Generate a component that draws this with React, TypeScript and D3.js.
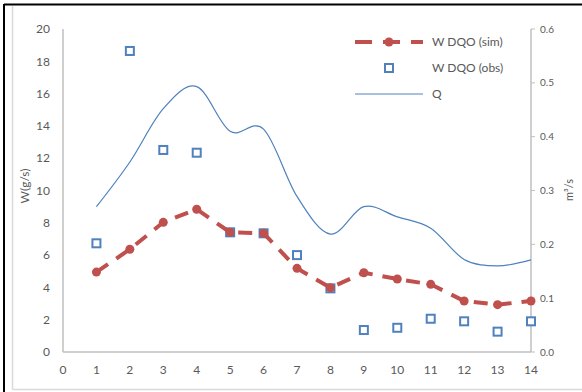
import React from "react";
import * as d3 from "d3";

const xs = [1, 2, 3, 4, 5, 6, 7, 8, 9, 10, 11, 12, 13, 14];
const wSim = [4.95, 6.36, 8.03, 8.84, 7.41, 7.35, 5.18, 3.98, 4.91, 4.52, 4.19, 3.16, 2.93, 3.16];
const wObs = [6.73, 18.64, 12.51, 12.34, 7.41, 7.35, 6.0, 3.94, 1.36, 1.5, 2.06, 1.9, 1.26, 1.9];
const q = [0.27, 0.353, 0.452, 0.493, 0.41, 0.414, 0.289, 0.219, 0.27, 0.251, 0.23, 0.172, 0.16, 0.171];
const xTicks = [0, 1, 2, 3, 4, 5, 6, 7, 8, 9, 10, 11, 12, 13, 14];
const yLeftTicks = [0, 2, 4, 6, 8, 10, 12, 14, 16, 18, 20];
const yRightTicks = [0, 0.1, 0.2, 0.3, 0.4, 0.5, 0.6];
const legendLabels = ["W DQO (sim)", "W DQO (obs)", "Q"];

const W = 582;
const H = 392;
const RED = "#c0504d";
const BLUE = "#4f81bd";
const TXT = "#595959";
const AX = "#bfbfbf";
const FONT = "Lato, 'Open Sans', 'Liberation Sans', sans-serif";

export default function App() {
  const left = 63, right = 531, top = 29, bottom = 352;
  const x = d3.scaleLinear().domain([0, 14]).range([left, right]);
  const yL = d3.scaleLinear().domain([0, 20]).range([bottom, top]);
  const yR = d3.scaleLinear().domain([0, 0.6]).range([bottom, top]);

  const qLine = d3
    .line<number>()
    .x((_, i) => x(xs[i]))
    .y((d) => yR(d))
    .curve(d3.curveCardinal.tension(0));
  const simLine = d3
    .line<number>()
    .x((_, i) => x(xs[i]))
    .y((d) => yL(d));

  const legX0 = 355, legX1 = 423, legText = 432;
  const legY = [42, 68, 94];

  return (
    <div style={{ position: "absolute", left: 0, top: 0 }}>
      <svg width={W} height={H} style={{ display: "block", fontFamily: FONT }}>
        <rect x={0} y={0} width={W} height={H} fill="#fff" />
        {/* outer frame */}
        <line x1={4} y1={4.5} x2={W} y2={4.5} stroke="#000" strokeWidth={2} />
        <line x1={4} y1={4} x2={4} y2={H} stroke="#000" strokeWidth={2} />
        <line x1={12.5} y1={6} x2={12.5} y2={389.5} stroke="#d9d9d9" strokeWidth={1.5} />
        <line x1={12.5} y1={389.5} x2={W} y2={389.5} stroke="#d9d9d9" strokeWidth={1.5} />

        {/* axes */}
        <line x1={left} y1={top} x2={left} y2={bottom} stroke={AX} strokeWidth={1.5} />
        <line x1={left} y1={bottom} x2={right} y2={bottom} stroke={AX} strokeWidth={1.5} />
        <line x1={right} y1={top} x2={right} y2={bottom} stroke={AX} strokeWidth={1.5} />
        {yRightTicks.map((t) => (
          <line key={"rt" + t} x1={right} x2={right + 4} y1={yR(t)} y2={yR(t)} stroke={AX} strokeWidth={1} />
        ))}

        {/* tick labels */}
        {yLeftTicks.map((t) => (
          <text key={"l" + t} x={50} y={yL(t)} dy="0.35em" textAnchor="end" fontSize={12} fill={TXT}>
            {t}
          </text>
        ))}
        {yRightTicks.map((t) => (
          <text key={"r" + t} x={540} y={yR(t)} dy="0.35em" textAnchor="start" fontSize={10} fill={TXT}>
            {t.toFixed(1)}
          </text>
        ))}
        {xTicks.map((t) => (
          <text key={"x" + t} x={x(t)} y={370} dy="0.35em" textAnchor="middle" fontSize={12} fill={TXT}>
            {t}
          </text>
        ))}
        <text transform={`translate(29,186) rotate(-90)`} textAnchor="middle" fontSize={12} fill={TXT}>
          W(g/s)
        </text>
        <text transform={`translate(573,190) rotate(-90)`} textAnchor="middle" fontSize={11} fill={TXT}>
          m³/s
        </text>

        {/* Q line */}
        <path d={qLine(q) || ""} fill="none" stroke={BLUE} strokeWidth={1.2} />

        {/* obs */}
        {wObs.map((v, i) => (
          <rect key={"o" + i} x={x(xs[i]) - 4} y={yL(v) - 4} width={8} height={8} fill="#fff" stroke={BLUE} strokeWidth={2} />
        ))}

        {/* sim */}
        <path d={simLine(wSim) || ""} fill="none" stroke={RED} strokeWidth={4} strokeDasharray="14 10" />
        {wSim.map((v, i) => (
          <circle key={"s" + i} cx={x(xs[i])} cy={yL(v)} r={4.5} fill={RED} />
        ))}

        {/* legend */}
        <line x1={legX0} x2={legX1} y1={legY[0]} y2={legY[0]} stroke={RED} strokeWidth={4} strokeDasharray="17 11" />
        <circle cx={(legX0 + legX1) / 2} cy={legY[0]} r={4.5} fill={RED} />
        <rect x={(legX0 + legX1) / 2 - 4} y={legY[1] - 4} width={8} height={8} fill="#fff" stroke={BLUE} strokeWidth={2} />
        <line x1={legX0} x2={legX1} y1={legY[2]} y2={legY[2]} stroke={BLUE} strokeWidth={1.2} />
        {legendLabels.map((l, i) => (
          <text key={l} x={legText} y={legY[i]} dy="0.35em" fontSize={12} fill={TXT}>
            {l}
          </text>
        ))}
      </svg>
    </div>
  );
}
